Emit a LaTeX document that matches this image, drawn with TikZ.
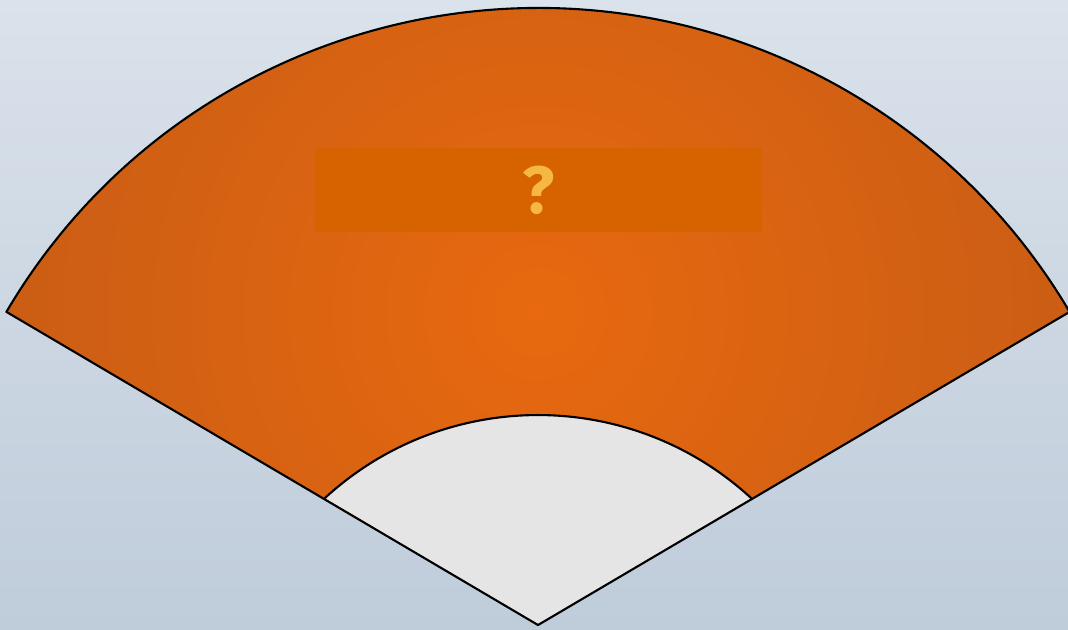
\documentclass[tikz,border=0pt]{standalone}
\usepackage{fontspec}
\setsansfont{Fira Sans}
\usepackage{tikz}
\usetikzlibrary{positioning, calc}
\definecolor{fanmid}{HTML}{E8690F}
\definecolor{fanrim}{HTML}{C25A16}
\definecolor{boxfill}{HTML}{D66200}
\definecolor{marktext}{HTML}{F5B845}
\definecolor{hubfill}{HTML}{E5E5E5}
\definecolor{icetop}{HTML}{DAE2EB}
\definecolor{icebot}{HTML}{BFCCDA}
\tikzset{fanline/.style = {draw = black, line width = 0.6pt, line join = round}}
\tikzset{markbox/.style = {shape = rectangle, fill = boxfill, minimum width = 4.47cm, minimum height = 0.84cm, inner sep = 0pt, font = \sffamily\bfseries\fontsize{19}{19}\selectfont, text = marktext}}

\begin{document}
\begin{tikzpicture}[x = 0.01cm, y = 0.01cm]
				\useasboundingbox (0, 0) rectangle (1068, 629);
				\shade[top color = icetop, bottom color = icebot] (0, 0) rectangle (1068, 629);

				\coordinate (apex) at (538, 4);
				\coordinate (hub) at (538, -101);
				\coordinate (lo) at ($(apex) + (149.5:617)$);
				\coordinate (ro) at ($(apex) + (30.5:617)$);
				\coordinate (li) at ($(hub) + (132.6:315)$);
				\coordinate (ri) at ($(hub) + (47.4:315)$);

				\begin{scope}
					\clip (apex) -- (lo) arc[start angle = 149.5, end angle = 30.5, radius = 617] -- cycle;
					\shade[inner color = fanmid, outer color = fanrim] (538, 317) circle (680);
				\end{scope}
				\fill[hubfill] (apex) -- (li) arc[start angle = 132.6, end angle = 47.4, radius = 315] -- cycle;

				\draw[fanline] (apex) -- (lo) arc[start angle = 149.5, end angle = 30.5, radius = 617] -- cycle;
				\draw[fanline] (li) arc[start angle = 132.6, end angle = 47.4, radius = 315];

				\node[markbox] (mark) at (538.5, 439) {?};
			\end{tikzpicture}
\end{document}
